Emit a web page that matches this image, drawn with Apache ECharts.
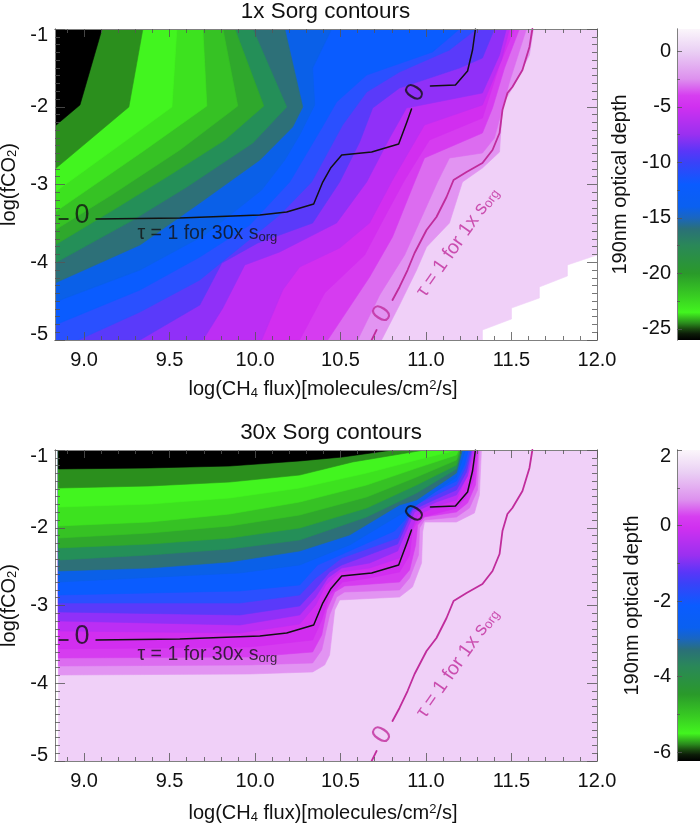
<!DOCTYPE html>
<html><head><meta charset="utf-8">
<style>html,body{margin:0;padding:0;background:#fff}#c{width:700px;height:824px}</style>
<script src="https://cdn.jsdelivr.net/npm/echarts@6/dist/echarts.min.js"></script>
</head><body><div id="c"></div>
<script>
const xRange=[8.83,12], yRange=[-5,-1];
const xTickValues=[9,9.5,10,10.5,11,11.5,12];
const xMinorValues=[8.9,9.1,9.2,9.3,9.4,9.6,9.7,9.8,9.9,10.1,10.2,10.3,10.4,10.6,10.7,10.8,10.9,11.1,11.2,11.3,11.4,11.6,11.7,11.8,11.9];
const yTickValues=[-5,-4,-3,-2,-1];
const yMinorValues=[-4.9,-4.8,-4.7,-4.6,-4.5,-4.4,-4.3,-4.2,-4.1,-3.9,-3.8,-3.7,-3.6,-3.5,-3.4,-3.3,-3.2,-3.1,-2.9,-2.8,-2.7,-2.6,-2.5,-2.4,-2.3,-2.2,-2.1,-1.9,-1.8,-1.7,-1.6,-1.5,-1.4,-1.3,-1.2,-1.1];

// upper panel: contour boundaries, darkest level first
const t01=[[9.105,-1],[8.976,-1.977],[8.83,-2.248]];
const t02=[[9.344,-1],[9.262,-2.003],[8.83,-2.801]];
const t03=[[9.543,-1],[9.514,-2.003],[9.169,-2.556],[8.83,-3.096]];
const t04=[[9.695,-1],[9.718,-1.99],[9.356,-2.556],[8.83,-3.354]];
const t05=[[9.812,-1],[9.899,-1.99],[9.56,-2.556],[9.151,-3.148],[8.83,-3.585]];
const t06=[[9.882,-1],[10.051,-1.99],[9.823,-2.428],[9.502,-2.878],[9.151,-3.354],[8.83,-3.778]];
const t07=[[9.987,-1],[10.185,-2.003],[9.987,-2.466],[9.601,-3.032],[9.286,-3.457],[8.83,-4.01]];
const t08=[[10.174,-1],[10.279,-2.003],[10.22,-2.26],[10.028,-2.685],[9.677,-3.238],[9.327,-3.778],[8.83,-4.267]];
const t09=[[10.448,-1],[10.337,-1.502],[10.349,-1.977],[10.261,-2.363],[10.174,-2.685],[10.039,-3.071],[9.706,-3.65],[9.327,-4.1],[8.83,-4.511]];
const t10=[[11.196,-1],[11.038,-1.296],[10.653,-1.592],[10.477,-1.939],[10.39,-2.273],[10.203,-2.968],[9.969,-3.521],[9.677,-3.933],[9.327,-4.357],[8.83,-4.807]];
const t11=[[11.295,-1],[11.137,-1.27],[10.845,-1.553],[10.653,-1.81],[10.512,-2.235],[10.331,-2.968],[10.144,-3.392],[9.677,-4.228],[9.327,-4.64],[8.965,-5]];
const t12=[[11.4,-1],[11.33,-1.373],[11.196,-1.502],[10.845,-1.759],[10.688,-2.016],[10.612,-2.453],[10.495,-2.968],[10.337,-3.495],[10.016,-3.752],[9.806,-4.01],[9.677,-4.55],[9.327,-5]];
const t13=[[11.47,-1],[11.43,-1.334],[11.33,-1.823],[10.886,-2.016],[10.787,-2.402],[10.653,-2.968],[10.477,-3.495],[10.144,-3.868],[9.94,-4.035],[9.812,-4.588],[9.695,-5]];
const t14=[[11.488,-1],[11.441,-1.399],[11.33,-1.977],[10.991,-2.235],[10.804,-2.942],[10.67,-3.495],[10.495,-3.817],[10.261,-4.061],[10.162,-4.357],[10.039,-5]];
const t15=[[11.517,-1],[11.43,-1.463],[11.33,-2.145],[11.02,-2.428],[10.875,-2.942],[10.758,-3.418],[10.641,-3.907],[10.407,-4.396],[10.261,-5]];
const t16=[[11.546,-1],[11.459,-1.502],[11.389,-2.016],[11.33,-2.338],[10.991,-2.659],[10.933,-2.968],[10.804,-3.675],[10.67,-4.19],[10.425,-5]];
const t17=[[11.587,-1],[11.488,-1.682],[11.4,-2.402],[11.33,-2.595],[11.137,-2.659],[11.067,-2.968],[10.875,-3.907],[10.729,-4.421],[10.6,-5]];
const t18=[[11.628,-1],[11.605,-1.334],[11.505,-1.759],[11.447,-1.977],[11.43,-2.582],[11.33,-2.788],[11.213,-2.968],[11.137,-3.495],[11.003,-3.804],[10.945,-4.1],[10.845,-4.55],[10.74,-5]];
const upperBase=[[8.83,-1],[12,-1],[12,-3.907],[11.827,-4.035],[11.827,-4.177],[11.663,-4.318],[11.663,-4.46],[11.5,-4.589],[11.5,-4.73],[11.33,-4.871],[11.33,-5],[8.83,-5]];

// lower panel
const b01=[[8.85,-1.244],[9.385,-1.231],[9.852,-1.206],[10.261,-1.141],[10.512,-1.09],[10.804,-1]];
const b02=[[8.85,-1.489],[9.385,-1.463],[9.852,-1.412],[10.261,-1.322],[10.571,-1.154],[10.991,-1]];
const b03=[[8.85,-1.733],[9.385,-1.695],[9.852,-1.617],[10.261,-1.489],[10.653,-1.296],[10.945,-1.129],[11.184,-1]];
const b04=[[8.85,-1.977],[9.385,-1.926],[9.852,-1.823],[10.261,-1.669],[10.653,-1.45],[10.945,-1.232],[11.178,-1.064],[11.19,-1]];
const b05=[[8.85,-2.132],[9.385,-2.067],[9.852,-1.977],[10.261,-1.836],[10.653,-1.604],[10.945,-1.347],[11.178,-1.129],[11.196,-1]];
const b06=[[8.85,-2.26],[9.385,-2.209],[9.852,-2.132],[10.261,-2.003],[10.653,-1.746],[10.945,-1.45],[11.178,-1.193],[11.202,-1]];
const b07=[[8.85,-2.415],[9.385,-2.35],[9.852,-2.273],[10.261,-2.157],[10.653,-1.861],[10.945,-1.553],[11.178,-1.244],[11.208,-1]];
const b08=[[8.85,-2.556],[9.385,-2.518],[9.852,-2.44],[10.261,-2.299],[10.553,-2.093],[10.845,-1.707],[10.945,-1.643],[11.178,-1.296],[11.213,-1]];
const b09=[[8.85,-2.698],[9.911,-2.582],[10.261,-2.479],[10.553,-2.222],[10.845,-1.836],[10.945,-1.707],[11.178,-1.347],[11.231,-1]];
const b10=[[8.85,-2.865],[9.911,-2.813],[10.261,-2.736],[10.366,-2.479],[10.524,-2.325],[10.816,-2.042],[10.875,-1.9],[10.933,-1.707],[11.021,-1.566],[11.178,-1.399],[11.225,-1.193],[11.248,-1]];
const b11=[[8.85,-2.968],[9.911,-2.968],[10.261,-2.865],[10.355,-2.646],[10.507,-2.389],[10.834,-2.132],[10.886,-1.9],[10.921,-1.72],[11.033,-1.604],[11.178,-1.45],[11.231,-1.231],[11.26,-1]];
const b12=[[8.85,-3.083],[9.911,-3.122],[10.261,-3.006],[10.349,-2.8],[10.436,-2.569],[10.507,-2.479],[10.834,-2.209],[10.892,-1.926],[10.921,-1.772],[11.059,-1.63],[11.178,-1.514],[11.237,-1.283],[11.266,-1]];
const b13=[[8.85,-3.199],[9.911,-3.251],[10.261,-3.122],[10.355,-2.891],[10.425,-2.646],[10.507,-2.518],[10.67,-2.453],[10.834,-2.299],[10.892,-2.003],[10.933,-1.797],[11.061,-1.669],[11.178,-1.579],[11.243,-1.334],[11.272,-1]];
const b14=[[8.85,-3.328],[9.911,-3.354],[10.261,-3.238],[10.355,-2.993],[10.413,-2.736],[10.495,-2.569],[10.67,-2.518],[10.845,-2.389],[10.904,-2.093],[10.951,-1.836],[11.079,-1.707],[11.178,-1.643],[11.254,-1.257],[11.283,-1]];
const b15=[[8.85,-3.559],[9.969,-3.533],[10.337,-3.444],[10.39,-3.186],[10.436,-2.865],[10.512,-2.698],[10.67,-2.646],[10.845,-2.569],[10.904,-2.35],[10.921,-2.029],[10.962,-1.875],[11.178,-1.746],[11.231,-1.617],[11.278,-1.386],[11.295,-1]];
const b16=[[8.85,-3.675],[9.969,-3.662],[10.337,-3.598],[10.39,-3.379],[10.419,-3.058],[10.466,-2.826],[10.524,-2.749],[10.845,-2.698],[10.904,-2.543],[10.939,-2.222],[10.951,-1.965],[10.991,-1.862],[11.178,-1.797],[11.243,-1.681],[11.289,-1.45],[11.306,-1]];
const b17=[[8.85,-3.778],[9.969,-3.765],[10.337,-3.739],[10.39,-3.572],[10.436,-3.122],[10.477,-2.891],[10.524,-2.826],[10.845,-2.8],[10.904,-2.646],[10.956,-2.35],[10.962,-2.003],[10.991,-1.9],[11.178,-1.862],[11.254,-1.746],[11.301,-1.514],[11.312,-1]];
const b18=[[8.85,-3.894],[9.969,-3.881],[10.337,-3.855],[10.407,-3.765],[10.436,-3.637],[10.466,-3.058],[10.495,-2.929],[10.845,-2.891],[10.921,-2.762],[10.974,-2.453],[10.98,-2.055],[10.991,-1.926],[11.178,-1.926],[11.283,-1.81],[11.312,-1.579],[11.324,-1]];
const lowerBase=[[8.85,-1],[12,-1],[12,-5],[8.85,-5]];

// tau = 1 contours, shared by both panels
const tau30Dash=[[8.854,-3.444],[8.906,-3.444]];
const tau30A=[[9.07,-3.444],[9.56,-3.431],[10.028,-3.392],[10.185,-3.354],[10.343,-3.251],[10.396,-2.968],[10.442,-2.788],[10.507,-2.621],[10.682,-2.582],[10.84,-2.479],[10.886,-2.209],[10.915,-2.029]];
const tau30B=[[11.026,-1.733],[11.172,-1.72],[11.243,-1.54],[11.272,-1.27],[11.289,-1]];
const tau1Dash=[[10.682,-5],[10.711,-4.871]];
const tau1A=[[10.804,-4.486],[10.845,-4.318],[10.892,-4.1],[10.933,-3.881],[11.003,-3.585],[11.061,-3.418],[11.12,-3.161],[11.161,-2.942],[11.237,-2.839],[11.33,-2.723],[11.389,-2.556],[11.43,-2.338],[11.447,-2.042],[11.476,-1.823],[11.505,-1.746],[11.564,-1.527],[11.605,-1.231],[11.622,-1]];

const upperBoundaries=[t01,t02,t03,t04,t05,t06,t07,t08,t09,t10,t11,t12,t13,t14,t15,t16,t17,t18];
const lowerBoundaries=[b01,b02,b03,b04,b05,b06,b07,b08,b09,b10,b11,b12,b13,b14,b15,b16,b17,b18];
const levelColors=['#000000','#2b8f1d','#42f51f','#3de21f','#36c224','#2fa82c','#248f58','#2d7078','#0a60e8','#0a5cff','#2a50ff','#5a3afa','#9030f8','#bc2ef4','#d22ef0','#d63cf0','#dc6cf0','#e294f2'];
const baseColor='#f0d0f8';

const upperBarRange=[-26,2], upperBarTicks=[-25,-20,-15,-10,-5,0], upperBarMinor=[-22.5,-17.5,-12.5,-7.5,-2.5];
const lowerBarRange=[-6.23,2], lowerBarTicks=[-6,-4,-2,0,2], lowerBarMinor=[-5,-3,-1,1];
const cmapPositions=[0,.02,.036,.054,.089,.143,.214,.304,.357,.393,.429,.5,.571,.607,.661,.75,.786,.839,.929,1];
const cmapColors=['#000000','#0c1c08','#1a4a10','#2a8a1d','#42f51f','#38cc22','#2a9a2a','#2a8858','#2a7078','#1a66c0','#0a60f0','#0a5cff','#3a42f8','#5a36f8','#9a30f0','#d030f0','#d63ef0','#dd90ee','#ead0f4','#fbf6fb'];

const FONT='Liberation Sans', INK='#111', PINK='#c02c9c', AXC='#808080', TKC='#555';

function xAxes(g,nameGap){
  const base={type:'value',gridIndex:g,min:xRange[0],max:xRange[1],z:6,splitLine:{show:false},axisLine:{show:true,lineStyle:{color:AXC,width:1}}};
  const tk=(vals,len)=>({show:true,inside:true,length:len,customValues:vals,lineStyle:{color:TKC,width:1,opacity:.8}});
  return [
   {...base,position:'bottom',axisTick:tk(xTickValues,8),
    axisLabel:{show:true,customValues:xTickValues,formatter:v=>v.toFixed(1),fontFamily:FONT,fontSize:20,color:INK,margin:10},
    name:'{m|log(CH}{sub|4}{m| flux)[molecules/cm}{sup|2}{m|/s]}',nameLocation:'middle',nameGap:nameGap,
    nameTextStyle:{padding:[0,6,0,0],rich:{m:{fontFamily:FONT,fontSize:20,color:INK},sub:{fontFamily:FONT,fontSize:13,color:INK,padding:[7,0,0,0]},sup:{fontFamily:FONT,fontSize:13,color:INK,padding:[0,0,8,0]}}}},
   {...base,position:'bottom',axisTick:tk(xMinorValues,4),axisLabel:{show:false}},
   {...base,position:'top',axisTick:tk(xTickValues,8),axisLabel:{show:false}},
   {...base,position:'top',axisTick:tk(xMinorValues,4),axisLabel:{show:false}}
  ];
}
function yAxes(g){
  const base={type:'value',gridIndex:g,min:yRange[0],max:yRange[1],z:6,splitLine:{show:false},axisLine:{show:true,lineStyle:{color:AXC,width:1}}};
  const tk=(vals,len)=>({show:true,inside:true,length:len,customValues:vals,lineStyle:{color:TKC,width:1,opacity:.8}});
  return [
   {...base,position:'left',axisTick:tk(yTickValues,10),
    axisLabel:{show:true,customValues:yTickValues,fontFamily:FONT,fontSize:20,lineHeight:12,color:INK,margin:7,verticalAlignMinLabel:'bottom',verticalAlignMaxLabel:'top'},
    name:'{m|log(fCO}{sub|2}{m|)}',nameLocation:'middle',nameGap:28,nameRotate:90,
    nameTextStyle:{rich:{m:{fontFamily:FONT,fontSize:20,color:INK},sub:{fontFamily:FONT,fontSize:13,color:INK,padding:[7,0,0,0]}}}},
   {...base,position:'left',axisTick:tk(yMinorValues,5),axisLabel:{show:false}},
   {...base,position:'right',axisTick:tk(yTickValues,10),axisLabel:{show:false}},
   {...base,position:'right',axisTick:tk(yMinorValues,5),axisLabel:{show:false}}
  ];
}
function barAxes(g,range,ticks,minor,gap,alignTop){
  const base={type:'value',gridIndex:g,min:range[0],max:range[1],position:'left',z:6,splitLine:{show:false},axisLine:{show:true,lineStyle:{color:AXC,width:1}}};
  const tk=(vals,len)=>({show:true,inside:true,length:len,customValues:vals,lineStyle:{color:TKC,width:1,opacity:.8}});
  const lab={show:true,customValues:ticks,fontFamily:FONT,fontSize:20,lineHeight:12,color:INK,margin:6};
  if(alignTop) lab.verticalAlignMaxLabel='top';
  return [
   {...base,axisTick:tk(ticks,5),axisLabel:lab,
    name:'190nm optical depth',nameLocation:'middle',nameGap:gap,nameRotate:90,nameTextStyle:{fontFamily:FONT,fontSize:20,color:INK}},
   {...base,axisTick:tk(minor,3),axisLabel:{show:false}}
  ];
}
function bandSeries(xi,yi,boundaries,base,xLeft){
  const polys=[base];
  const cols=[baseColor];
  for(let i=boundaries.length-1;i>=0;i--){
    const b=boundaries[i], last=b[b.length-1];
    polys.push(b.concat([[xLeft,last[1]],[xLeft,-1]]));
    cols.push(levelColors[i]);
  }
  return {type:'custom',xAxisIndex:xi,yAxisIndex:yi,z:2,silent:true,clip:true,
    data:polys.map((p,i)=>[p[0][0],p[0][1],i]),
    renderItem:(params,api)=>{
      const k=api.value(2);
      return {type:'polygon',shape:{points:polys[k].map(p=>api.coord(p))},style:{fill:cols[k],stroke:cols[k],lineWidth:.6}};
    }};
}
function barSeries(xi,yi,range){
  return {type:'custom',xAxisIndex:xi,yAxisIndex:yi,z:2,silent:true,clip:true,data:[[0,range[1]]],
    renderItem:(params,api)=>{
      const a=api.coord([0,range[1]]), b=api.coord([1,range[0]]);
      return {type:'rect',shape:{x:a[0],y:a[1],width:b[0]-a[0],height:b[1]-a[1]},
        style:{fill:new echarts.graphic.LinearGradient(0,1,0,0,cmapPositions.map((o,i)=>({offset:o,color:cmapColors[i]})))}};
    }};
}
function lineS(xi,yi,data,color,w){
  return {type:'line',xAxisIndex:xi,yAxisIndex:yi,data:data,showSymbol:false,symbol:'none',silent:true,z:4,animation:false,
    lineStyle:{color:color,width:w,cap:'round',join:'round'}};
}
function notes(xi,yi){
  const rich=c=>({m:{fontFamily:FONT,fontSize:19.5,color:c},sub:{fontFamily:FONT,fontSize:13,color:c,padding:[7,0,0,0]}});
  const zero=(v,c,rot)=>({value:v,label:{show:true,position:'inside',formatter:'0',rotate:rot,fontFamily:FONT,fontSize:27,color:c}});
  const txt=(v,c,rot)=>({value:v,label:{show:true,position:'inside',formatter:'{m|\u03c4 = 1 for '+(c===PINK?'1x':'30x')+' s}{sub|org}',rotate:rot,rich:rich(c)}});
  return {type:'scatter',xAxisIndex:xi,yAxisIndex:yi,symbolSize:1,itemStyle:{color:'transparent'},silent:true,z:5,
    data:[zero([8.988,-3.405],INK,0),zero([10.939,-1.823],INK,57),zero([10.746,-4.666],PINK,57),
      txt([9.721,-3.63],INK,0),txt([11.184,-3.74],PINK,55)]};
}
function panel(xi,yi,boundaries,base,xLeft){
  return [bandSeries(xi,yi,boundaries,base,xLeft),
    lineS(xi,yi,tau30Dash,INK,1.5),lineS(xi,yi,tau30A,INK,1.5),lineS(xi,yi,tau30B,INK,1.5),
    lineS(xi,yi,tau1Dash,PINK,1.8),lineS(xi,yi,tau1A,PINK,1.8),notes(xi,yi)];
}
const barX=g=>({type:'value',gridIndex:g,min:0,max:1,show:false});
const option={
  backgroundColor:'#fff',animation:false,
  title:[
    {text:'1x Sorg contours',left:320.5,top:-4,textAlign:'center',textStyle:{fontFamily:FONT,fontSize:22.4,fontWeight:'normal',color:INK}},
    {text:'30x Sorg contours',left:326,top:417,textAlign:'center',textStyle:{fontFamily:FONT,fontSize:22.4,fontWeight:'normal',color:INK}}
  ],
  grid:[
    {left:55,top:29,width:542,height:311,outerBoundsMode:'none'},
    {left:55,top:450,width:542,height:311,outerBoundsMode:'none'},
    {left:677,top:29,width:23,height:311,outerBoundsMode:'none'},
    {left:677,top:450,width:23,height:311,outerBoundsMode:'none'}
  ],
  xAxis:[...xAxes(0,39),...xAxes(1,42),barX(2),barX(3)],
  yAxis:[...yAxes(0),...yAxes(1),
    ...barAxes(2,upperBarRange,upperBarTicks,upperBarMinor,47,false),
    ...barAxes(3,lowerBarRange,lowerBarTicks,lowerBarMinor,35,true)],
  series:[
    ...panel(0,0,upperBoundaries,upperBase,8.83),
    ...panel(4,4,lowerBoundaries,lowerBase,8.85),
    barSeries(8,8,upperBarRange),
    barSeries(9,10,lowerBarRange)
  ]
};
const chart=echarts.init(document.getElementById('c'),null,{renderer:'canvas'});
chart.setOption(option);
</script></body></html>
